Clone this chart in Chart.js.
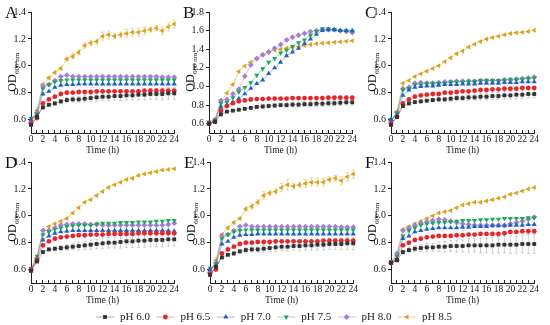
<!DOCTYPE html>
<html>
<head>
<meta charset="utf-8">
<script src="https://cdn.jsdelivr.net/npm/chart.js@4/dist/chart.umd.min.js"></script>
<style>
  body { margin: 0; background: #fff; width: 550px; height: 325px; position: relative; overflow: hidden; }
  canvas { position: absolute; }
</style>
</head>
<body>
<canvas id="chartA" width="183" height="156" style="left:0;top:0"></canvas>
<canvas id="chartB" width="183" height="156" style="left:178px;top:0"></canvas>
<canvas id="chartC" width="183" height="156" style="left:360px;top:0"></canvas>
<canvas id="chartD" width="183" height="156" style="left:0;top:150px"></canvas>
<canvas id="chartE" width="183" height="156" style="left:179px;top:150px"></canvas>
<canvas id="chartF" width="183" height="156" style="left:360px;top:150px"></canvas>
<canvas id="legend" width="550" height="20" style="left:0;top:307px"></canvas>
<script>
// time axis and tick labels
const hours = [0,1,2,3,4,5,6,7,8,9,10,11,12,13,14,15,16,17,18,19,20,21,22,23,24];
const phLabels = ['pH 6.0', 'pH 6.5', 'pH 7.0', 'pH 7.5', 'pH 8.0', 'pH 8.5'];
const yTicks14 = [0.6, 0.8, 1.0, 1.2, 1.4];
const yTicks18 = [0.6, 0.8, 1.0, 1.2, 1.4, 1.6, 1.8];

// Panel A
const a60 = [0.56,0.62,0.69,0.71,0.72,0.735,0.745,0.75,0.75,0.755,0.76,0.765,0.77,0.77,0.775,0.775,0.78,0.78,0.785,0.785,0.79,0.79,0.79,0.795,0.795];
const a65 = [0.57,0.61,0.72,0.75,0.77,0.79,0.80,0.80,0.805,0.805,0.805,0.81,0.81,0.81,0.81,0.81,0.81,0.81,0.81,0.815,0.815,0.815,0.815,0.815,0.815];
const a70 = [0.60,0.63,0.79,0.81,0.84,0.855,0.86,0.86,0.865,0.865,0.865,0.865,0.865,0.865,0.865,0.865,0.865,0.865,0.865,0.865,0.865,0.865,0.865,0.865,0.865];
const a75 = [0.61,0.64,0.83,0.86,0.88,0.89,0.895,0.895,0.895,0.895,0.895,0.895,0.895,0.895,0.895,0.895,0.895,0.895,0.895,0.895,0.895,0.895,0.895,0.895,0.895];
const a80 = [0.58,0.65,0.85,0.86,0.89,0.92,0.93,0.92,0.92,0.92,0.92,0.92,0.92,0.92,0.92,0.92,0.92,0.92,0.92,0.92,0.92,0.92,0.915,0.915,0.915];
const a85 = [0.58,0.67,0.86,0.91,0.95,0.98,1.05,1.07,1.10,1.15,1.17,1.18,1.22,1.23,1.22,1.23,1.24,1.25,1.25,1.26,1.27,1.28,1.26,1.29,1.31];
const aErr60 = [0.01,0.01,0.01,0.01,0.015,0.015,0.02,0.02,0.02,0.025,0.025,0.03,0.03,0.03,0.03,0.035,0.035,0.035,0.04,0.04,0.04,0.04,0.045,0.045,0.045];
const aErr85 = [0.01,0.02,0.01,0.01,0.01,0.01,0.015,0.02,0.02,0.02,0.02,0.02,0.03,0.03,0.02,0.02,0.03,0.03,0.03,0.03,0.02,0.02,0.03,0.03,0.03];

// Panel B
const b60 = [0.60,0.62,0.70,0.73,0.74,0.75,0.76,0.77,0.78,0.785,0.79,0.795,0.80,0.80,0.805,0.805,0.81,0.81,0.815,0.815,0.82,0.82,0.825,0.83,0.83];
const b65 = [0.60,0.62,0.74,0.79,0.82,0.84,0.85,0.86,0.865,0.865,0.87,0.87,0.87,0.87,0.875,0.875,0.875,0.875,0.875,0.875,0.88,0.88,0.88,0.88,0.88];
const b70 = [0.60,0.63,0.78,0.80,0.83,0.87,0.92,0.98,1.03,1.07,1.14,1.20,1.26,1.33,1.37,1.41,1.46,1.51,1.56,1.60,1.61,1.61,1.60,1.60,1.60];
const b75 = [0.62,0.64,0.82,0.83,0.88,0.94,0.99,1.04,1.12,1.19,1.26,1.30,1.36,1.39,1.43,1.47,1.50,1.55,1.59,1.62,1.62,1.61,1.60,1.60,1.59];
const b80 = [0.60,0.64,0.85,0.86,0.92,0.97,1.11,1.23,1.30,1.34,1.37,1.41,1.45,1.50,1.53,1.55,1.57,1.59,1.60,1.61,1.61,1.61,1.60,1.59,1.58];
const b85 = [0.60,0.64,0.83,0.93,1.02,1.16,1.22,1.26,1.30,1.34,1.37,1.39,1.40,1.41,1.42,1.43,1.44,1.45,1.46,1.465,1.47,1.475,1.48,1.485,1.49];
const bErr60 = [0.01,0.01,0.01,0.01,0.01,0.01,0.015,0.015,0.015,0.02,0.02,0.02,0.02,0.025,0.025,0.025,0.025,0.03,0.03,0.03,0.03,0.03,0.03,0.03,0.03];

// Panel C
const c60 = [0.56,0.62,0.70,0.72,0.73,0.735,0.74,0.745,0.75,0.75,0.755,0.76,0.76,0.765,0.765,0.77,0.77,0.775,0.775,0.78,0.78,0.785,0.785,0.79,0.79];
const c65 = [0.57,0.62,0.72,0.75,0.77,0.78,0.785,0.79,0.79,0.80,0.80,0.805,0.81,0.81,0.815,0.82,0.82,0.825,0.825,0.83,0.83,0.83,0.835,0.835,0.835];
const c70 = [0.60,0.63,0.78,0.82,0.84,0.845,0.85,0.85,0.855,0.86,0.86,0.86,0.865,0.865,0.865,0.87,0.87,0.87,0.87,0.875,0.875,0.875,0.88,0.88,0.88];
const c75 = [0.60,0.65,0.82,0.83,0.86,0.86,0.87,0.87,0.87,0.87,0.88,0.88,0.88,0.885,0.885,0.89,0.89,0.89,0.89,0.895,0.90,0.90,0.90,0.905,0.91];
const c80 = [0.59,0.65,0.83,0.84,0.87,0.875,0.87,0.87,0.875,0.88,0.88,0.885,0.885,0.885,0.885,0.89,0.89,0.89,0.89,0.895,0.895,0.90,0.905,0.91,0.915];
const c85 = [0.58,0.66,0.87,0.89,0.92,0.94,0.96,0.98,1.00,1.03,1.06,1.09,1.11,1.14,1.16,1.18,1.20,1.21,1.22,1.23,1.24,1.245,1.25,1.255,1.265];
const cErr60 = [0.01,0.01,0.01,0.01,0.01,0.01,0.01,0.015,0.015,0.015,0.02,0.02,0.02,0.02,0.02,0.025,0.025,0.025,0.025,0.03,0.03,0.03,0.03,0.03,0.03];

// Panel D
const d60 = [0.59,0.66,0.73,0.75,0.755,0.76,0.765,0.77,0.775,0.78,0.785,0.79,0.795,0.80,0.80,0.805,0.81,0.81,0.815,0.815,0.82,0.82,0.82,0.825,0.825];
const d65 = [0.60,0.67,0.78,0.81,0.83,0.84,0.845,0.85,0.855,0.855,0.86,0.86,0.86,0.865,0.865,0.865,0.865,0.865,0.87,0.87,0.87,0.87,0.87,0.87,0.87];
const d70 = [0.60,0.67,0.82,0.85,0.87,0.88,0.885,0.89,0.89,0.89,0.89,0.89,0.89,0.89,0.89,0.89,0.89,0.89,0.89,0.89,0.89,0.89,0.89,0.89,0.885];
const d75 = [0.61,0.70,0.86,0.88,0.90,0.91,0.92,0.925,0.93,0.93,0.93,0.94,0.945,0.945,0.945,0.95,0.95,0.95,0.955,0.955,0.955,0.96,0.96,0.965,0.965];
const d80 = [0.60,0.68,0.89,0.89,0.91,0.93,0.935,0.94,0.94,0.94,0.935,0.935,0.93,0.93,0.93,0.93,0.93,0.93,0.93,0.93,0.93,0.93,0.93,0.935,0.945];
const d85 = [0.60,0.69,0.89,0.92,0.94,0.96,0.98,1.02,1.06,1.10,1.12,1.15,1.18,1.21,1.23,1.25,1.27,1.28,1.30,1.31,1.32,1.33,1.34,1.345,1.35];
const dErr60 = [0.01,0.01,0.01,0.01,0.015,0.02,0.02,0.025,0.03,0.03,0.035,0.035,0.04,0.04,0.04,0.045,0.045,0.045,0.05,0.05,0.05,0.05,0.05,0.05,0.05];

// Panel E
const e60 = [0.56,0.62,0.69,0.71,0.72,0.735,0.745,0.75,0.75,0.755,0.76,0.765,0.77,0.77,0.775,0.775,0.78,0.78,0.785,0.785,0.79,0.79,0.79,0.795,0.795];
const e65 = [0.57,0.60,0.72,0.75,0.77,0.79,0.80,0.80,0.805,0.805,0.805,0.81,0.81,0.81,0.81,0.81,0.81,0.81,0.81,0.815,0.815,0.815,0.815,0.815,0.815];
const e70 = [0.60,0.63,0.79,0.81,0.84,0.855,0.86,0.86,0.865,0.865,0.865,0.865,0.865,0.865,0.865,0.865,0.865,0.865,0.865,0.865,0.865,0.865,0.865,0.865,0.865];
const e75 = [0.61,0.64,0.83,0.86,0.88,0.89,0.895,0.895,0.895,0.895,0.895,0.895,0.895,0.895,0.895,0.895,0.895,0.895,0.895,0.895,0.895,0.895,0.895,0.895,0.895];
const e80 = [0.58,0.65,0.85,0.86,0.89,0.92,0.93,0.92,0.92,0.92,0.92,0.92,0.92,0.92,0.92,0.92,0.92,0.92,0.92,0.92,0.92,0.92,0.915,0.915,0.915];
const e85 = [0.58,0.67,0.86,0.91,0.95,0.98,1.05,1.07,1.10,1.15,1.17,1.18,1.21,1.23,1.22,1.23,1.24,1.25,1.25,1.25,1.27,1.28,1.26,1.29,1.31];
const eErr60 = [0.01,0.01,0.01,0.01,0.015,0.015,0.02,0.02,0.02,0.025,0.025,0.03,0.03,0.03,0.03,0.035,0.035,0.035,0.04,0.04,0.04,0.04,0.045,0.045,0.045];
const eErr85 = [0.01,0.02,0.01,0.01,0.01,0.01,0.015,0.02,0.02,0.03,0.02,0.02,0.03,0.04,0.02,0.02,0.03,0.03,0.03,0.03,0.02,0.02,0.03,0.03,0.03];

// Panel F
const f60 = [0.65,0.67,0.73,0.745,0.755,0.76,0.765,0.765,0.77,0.77,0.775,0.775,0.775,0.78,0.78,0.78,0.78,0.78,0.785,0.785,0.785,0.785,0.79,0.79,0.79];
const f65 = [0.65,0.67,0.78,0.80,0.82,0.83,0.84,0.845,0.85,0.85,0.85,0.855,0.855,0.86,0.86,0.865,0.865,0.865,0.865,0.87,0.88,0.88,0.885,0.885,0.885];
const f70 = [0.65,0.68,0.83,0.85,0.88,0.89,0.90,0.905,0.91,0.91,0.91,0.91,0.915,0.915,0.92,0.92,0.92,0.925,0.925,0.925,0.93,0.93,0.93,0.935,0.935];
const f75 = [0.66,0.70,0.85,0.89,0.91,0.93,0.94,0.945,0.95,0.95,0.955,0.96,0.965,0.965,0.965,0.97,0.97,0.975,0.975,0.98,0.98,0.98,0.98,0.985,0.985];
const f80 = [0.65,0.72,0.89,0.91,0.93,0.945,0.955,0.965,0.975,0.97,0.96,0.95,0.94,0.935,0.93,0.93,0.93,0.93,0.93,0.93,0.94,0.95,0.96,0.975,0.99];
const f85 = [0.65,0.71,0.90,0.92,0.94,0.96,0.98,1.00,1.02,1.03,1.04,1.06,1.08,1.09,1.10,1.10,1.11,1.12,1.13,1.14,1.16,1.17,1.185,1.20,1.21];
const fErr60 = [0.01,0.01,0.015,0.02,0.02,0.025,0.03,0.03,0.035,0.04,0.04,0.045,0.045,0.05,0.05,0.055,0.055,0.06,0.06,0.06,0.065,0.065,0.065,0.07,0.07];

const fontFamily = '"Liberation Serif", "Times New Roman", serif';
const ink = '#222';
const pointColors = ['#333333', '#e3262b', '#1f60c0', '#1fa65a', '#a57fd5', '#dba11c'];
const lineColors = ['rgba(51,51,51,0.4)', 'rgba(227,38,43,0.4)', 'rgba(31,96,192,0.4)', 'rgba(31,166,90,0.4)', 'rgba(165,127,213,0.45)', 'rgba(219,161,28,0.5)'];
const errColors = ['rgba(150,150,150,0.55)', 'rgba(227,38,43,0.4)', 'rgba(31,96,192,0.4)', 'rgba(31,166,90,0.4)', 'rgba(165,127,213,0.4)', 'rgba(219,161,28,0.5)'];
const pointStyles = ['rect', 'circle', 'triangle', 'triangle', 'rectRot', 'triangle'];
const pointRotations = [0, 0, 0, 180, 0, 270];
const pointSizes = [2.7, 2.4, 2.9, 2.9, 2.9, 2.9];

function makeDatasets(series, errs) {
  return series.map((vals, i) => ({
    label: phLabels[i],
    data: vals,
    errors: errs[i] || null,
    errorColor: errColors[i],
    borderColor: lineColors[i],
    borderWidth: 1,
    pointStyle: pointStyles[i],
    pointRotation: pointRotations[i],
    pointRadius: pointSizes[i],
    pointBackgroundColor: pointColors[i],
    pointBorderColor: pointColors[i],
    pointBorderWidth: 0,
    tension: 0,
    clip: false
  }));
}

// error bars under the markers
const errorBars = {
  id: 'errorBars',
  beforeDatasetsDraw(chart) {
    const { ctx, scales: { x, y } } = chart;
    ctx.save();
    ctx.lineWidth = 0.8;
    chart.data.datasets.forEach(ds => {
      if (!ds.errors) return;
      ctx.strokeStyle = ds.errorColor;
      ds.data.forEach((v, i) => {
        const px = x.getPixelForValue(i);
        const top = y.getPixelForValue(v + ds.errors[i]);
        const bot = y.getPixelForValue(v - ds.errors[i]);
        ctx.beginPath();
        ctx.moveTo(px, top); ctx.lineTo(px, bot);
        ctx.moveTo(px - 1.5, top); ctx.lineTo(px + 1.5, top);
        ctx.moveTo(px - 1.5, bot); ctx.lineTo(px + 1.5, bot);
        ctx.stroke();
      });
    });
    ctx.restore();
  }
};

// panel letter and the OD600 nm axis title (subscript)
const panelDecor = {
  id: 'panelDecor',
  afterDraw(chart, args, opts) {
    const { ctx, chartArea } = chart;
    ctx.save();
    ctx.fillStyle = '#111';
    ctx.font = '17px ' + fontFamily;
    ctx.textBaseline = 'alphabetic';
    ctx.fillText(opts.letter, 5, chartArea.top + 6);
    const cy = (chartArea.top + chartArea.bottom) / 2;
    ctx.translate(13, cy);
    ctx.rotate(-Math.PI / 2);
    ctx.font = '12px ' + fontFamily;
    const w1 = ctx.measureText('OD').width;
    ctx.font = '7px ' + fontFamily;
    const w2 = ctx.measureText('600 nm').width;
    const x0 = -(w1 + w2) / 2;
    ctx.textBaseline = 'middle';
    ctx.font = '12px ' + fontFamily;
    ctx.fillText('OD', x0, 0);
    ctx.font = '7px ' + fontFamily;
    ctx.fillText('600 nm', x0 + w1 + 0.5, 4);
    ctx.restore();
  }
};

function makePanel(id, letter, series, errs, yMax, yTicks) {
  return new Chart(document.getElementById(id), {
    type: 'line',
    data: { labels: hours, datasets: makeDatasets(series, errs) },
    plugins: [errorBars, panelDecor],
    options: {
      responsive: false,
      animation: false,
      devicePixelRatio: 1,
      layout: { padding: { top: 12, right: 7, left: 0, bottom: 0 } },
      plugins: { legend: { display: false }, tooltip: { enabled: false }, panelDecor: { letter: letter } },
      scales: {
        x: {
          grid: { drawOnChartArea: false, tickLength: -3, color: ink },
          border: { color: ink },
          ticks: {
            autoSkip: false, maxRotation: 0, minRotation: 0, padding: 4,
            color: ink, font: { family: fontFamily, size: 9.5 },
            callback: (val, i) => hours[i] % 2 === 0 ? String(hours[i]) : ''
          },
          title: { display: true, text: 'Time (h)', color: ink, font: { family: fontFamily, size: 9.5 }, padding: 0 },
          afterFit: s => { s.height = 23; }
        },
        y: {
          min: 0.5,
          max: yMax,
          afterBuildTicks: s => { s.ticks = yTicks.map(v => ({ value: v })); },
          grid: { drawOnChartArea: false, tickLength: 3, color: ink },
          border: { color: ink },
          ticks: { padding: 2, color: ink, font: { family: fontFamily, size: 10 }, callback: v => v.toFixed(1) },
          afterFit: s => { s.width = 31; }
        }
      }
    }
  });
}

makePanel('chartA', 'A', [a60, a65, a70, a75, a80, a85], { 0: aErr60, 5: aErr85 }, 1.4, yTicks14);
makePanel('chartB', 'B', [b60, b65, b70, b75, b80, b85], { 0: bErr60 }, 1.8, yTicks18);
makePanel('chartC', 'C', [c60, c65, c70, c75, c80, c85], { 0: cErr60 }, 1.4, yTicks14);
makePanel('chartD', 'D', [d60, d65, d70, d75, d80, d85], { 0: dErr60 }, 1.4, yTicks14);
makePanel('chartE', 'E', [e60, e65, e70, e75, e80, e85], { 0: eErr60, 5: eErr85 }, 1.4, yTicks14);
makePanel('chartF', 'F', [f60, f65, f70, f75, f80, f85], { 0: fErr60 }, 1.4, yTicks14);

// shared legend row at the bottom
const legendRow = {
  id: 'legendRow',
  afterDraw(chart) {
    const ctx = chart.ctx;
    const y = 10;
    ctx.save();
    chart.data.datasets.forEach((ds, i) => {
      const cx = 105 + i * 60.4;
      ctx.strokeStyle = ds.borderColor;
      ctx.lineWidth = 1;
      ctx.beginPath(); ctx.moveTo(cx - 9, y); ctx.lineTo(cx + 9, y); ctx.stroke();
      ctx.fillStyle = ds.pointBackgroundColor;
      ctx.strokeStyle = ds.pointBorderColor;
      Chart.helpers.drawPoint(ctx, { pointStyle: ds.pointStyle, rotation: ds.pointRotation, radius: ds.pointRadius, borderWidth: 0 }, cx, y);
      ctx.fillStyle = ink;
      ctx.font = '11px ' + fontFamily;
      ctx.textBaseline = 'middle';
      ctx.fillText(ds.label, cx + 15, y + 0.5);
    });
    ctx.restore();
  }
};

new Chart(document.getElementById('legend'), {
  type: 'line',
  data: { labels: [], datasets: makeDatasets([[], [], [], [], [], []], {}) },
  plugins: [legendRow],
  options: {
    responsive: false, animation: false, devicePixelRatio: 1,
    plugins: { legend: { display: false }, tooltip: { enabled: false } },
    scales: { x: { display: false }, y: { display: false } }
  }
});
</script>
</body>
</html>
